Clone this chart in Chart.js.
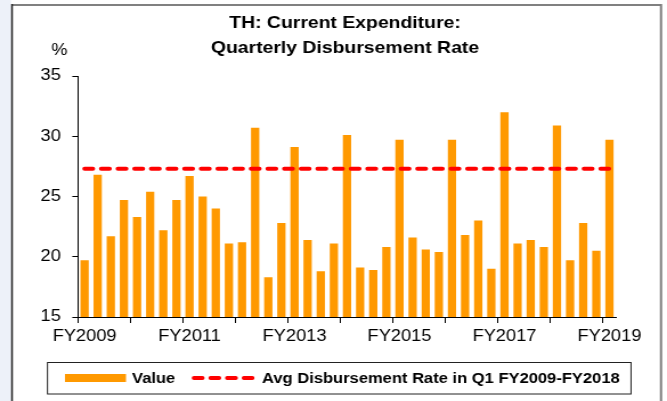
<!DOCTYPE html>
<html>
<head>
<meta charset="utf-8">
<script src="https://cdn.jsdelivr.net/npm/chart.js@4"></script>
<style>
  html, body { margin: 0; padding: 0; background: #fff; }
  #c { display: block; width: 667px; height: 401px; }
</style>
</head>
<body>
<canvas id="c" width="585" height="401" style="width:667px;height:401px"></canvas>
<script>
// Data (quarterly, FY2009 Q1 .. FY2019 Q1)
const years = [2009, 2010, 2011, 2012, 2013, 2014, 2015, 2016, 2017, 2018, 2019];
const quarters = ['Q1', 'Q2', 'Q3', 'Q4'];
const values = [19.7, 26.8, 21.7, 24.7, 23.3, 25.4, 22.2, 24.7, 26.7, 25.0,
                24.0, 21.1, 21.2, 30.7, 18.3, 22.8, 29.1, 21.4, 18.8, 21.1,
                30.1, 19.1, 18.9, 20.8, 29.7, 21.6, 20.6, 20.4, 29.7, 21.8,
                23.0, 19.0, 32.0, 21.1, 21.4, 20.8, 30.9, 19.7, 22.8, 20.5, 29.7];
const avgQ1 = 27.3;
const tickLabels = ['FY2009', 'FY2011', 'FY2013', 'FY2015', 'FY2017', 'FY2019'];
const yTicks = { min: 15, max: 35, step: 5 };

const categories = [];
years.forEach(y => quarters.forEach(q => categories.push(q + ' FY' + y)));
categories.length = values.length;
const avgLine = categories.map(() => avgQ1);

// the reference picture is slightly stretched sideways; canvas is drawn narrower and stretched by CSS
const K = 667 / 585;
const FONT = '"Liberation Sans", Arial, sans-serif';
const ORANGE = '#FF9900';
const RED = '#FF0000';
const DASH = [7.3, 7.3];

Chart.defaults.font.family = FONT;
Chart.defaults.color = '#000';

const decor = {
    id: 'decor',
    beforeDraw(chart) {
        const ctx = chart.ctx;
        ctx.save();
        ctx.fillStyle = '#fff';
        ctx.fillRect(0, 0, chart.width, chart.height);
        ctx.fillStyle = '#edf1f9';
        ctx.fillRect(0, 0, 11 / K, chart.height);
        // outer frame
        ctx.strokeStyle = '#808080';
        ctx.lineWidth = 2;
        ctx.beginPath();
        ctx.moveTo(12 / K, 5);
        ctx.lineTo(661 / K, 5);
        ctx.lineTo(661 / K, chart.height + 5);
        ctx.stroke();
        ctx.strokeStyle = '#222';
        ctx.lineWidth = 1.5;
        ctx.beginPath();
        ctx.moveTo(12 / K, 4);
        ctx.lineTo(12 / K, chart.height + 5);
        ctx.stroke();
        ctx.restore();
    },
    afterDraw(chart) {
        const ctx = chart.ctx;
        ctx.save();
        ctx.fillStyle = '#000';
        ctx.textAlign = 'center';
        ctx.textBaseline = 'middle';
        ctx.font = 'bold 17px ' + FONT;
        ctx.fillText('TH: Current Expenditure:', 345 / K, 23);
        ctx.fillText('Quarterly Disbursement Rate', 345 / K, 48);
        ctx.font = '16px ' + FONT;
        ctx.fillText('%', 59.5 / K, 51);

        // legend
        ctx.strokeStyle = '#222';
        ctx.lineWidth = 1;
        ctx.strokeRect(47.5 / K, 362.5, (631 - 47.5) / K, 31.5);
        ctx.fillStyle = ORANGE;
        ctx.fillRect(65 / K, 374, 61 / K, 8);
        ctx.fillStyle = '#000';
        ctx.textAlign = 'left';
        ctx.font = 'bold 14.5px ' + FONT;
        ctx.fillText('Value', 132 / K, 378.5);
        ctx.strokeStyle = RED;
        ctx.lineWidth = 4;
        ctx.lineCap = 'round';
        ctx.setLineDash(DASH);
        ctx.beginPath();
        ctx.moveTo(194 / K, 378);
        ctx.lineTo(253 / K, 378);
        ctx.stroke();
        ctx.setLineDash([]);
        ctx.fillText('Avg Disbursement Rate in Q1 FY2009-FY2018', 262 / K, 378.5);
        ctx.restore();
    }
};

new Chart(document.getElementById('c'), {
    type: 'bar',
    data: {
        labels: categories,
        datasets: [{
            type: 'line',
            label: 'Avg Disbursement Rate in Q1 FY2009-FY2018',
            data: avgLine,
            borderColor: RED,
            borderWidth: 4,
            borderDash: DASH,
            borderCapStyle: 'round',
            pointRadius: 0,
            fill: false,
            order: 0
        }, {
            label: 'Value',
            data: values,
            backgroundColor: ORANGE,
            borderWidth: 0,
            categoryPercentage: 1,
            barPercentage: 0.63,
            order: 1
        }]
    },
    options: {
        responsive: false,
        animation: false,
        devicePixelRatio: 1,
        layout: { padding: { left: 0, right: (667 - 616) / K, top: 76, bottom: 0 } },
        plugins: {
            legend: { display: false },
            title: { display: false },
            tooltip: { enabled: false }
        },
        scales: {
            x: {
                offset: true,
                afterFit: scale => { scale.height = 401 - 317; },
                grid: {
                    offset: true,
                    drawOnChartArea: false,
                    drawTicks: true,
                    tickLength: 6,
                    color: c => (c.index !== undefined && c.index % 4 === 0) ? '#000' : 'rgba(0,0,0,0)'
                },
                border: { display: true, color: '#000', width: 1 },
                ticks: {
                    autoSkip: false,
                    maxRotation: 0,
                    minRotation: 0,
                    padding: 4,
                    font: { size: 16 },
                    callback: (v, i) => i % 8 === 0 ? tickLabels[i / 8] : ''
                }
            },
            y: {
                min: yTicks.min,
                max: yTicks.max,
                afterFit: scale => { scale.width = 78 / K; },
                grid: {
                    drawOnChartArea: false,
                    drawTicks: true,
                    tickLength: 5,
                    color: '#000'
                },
                border: { display: true, color: '#000', width: 1 },
                ticks: {
                    stepSize: yTicks.step,
                    padding: 10,
                    font: { size: 16 }
                }
            }
        }
    },
    plugins: [decor]
});
</script>
</body>
</html>
